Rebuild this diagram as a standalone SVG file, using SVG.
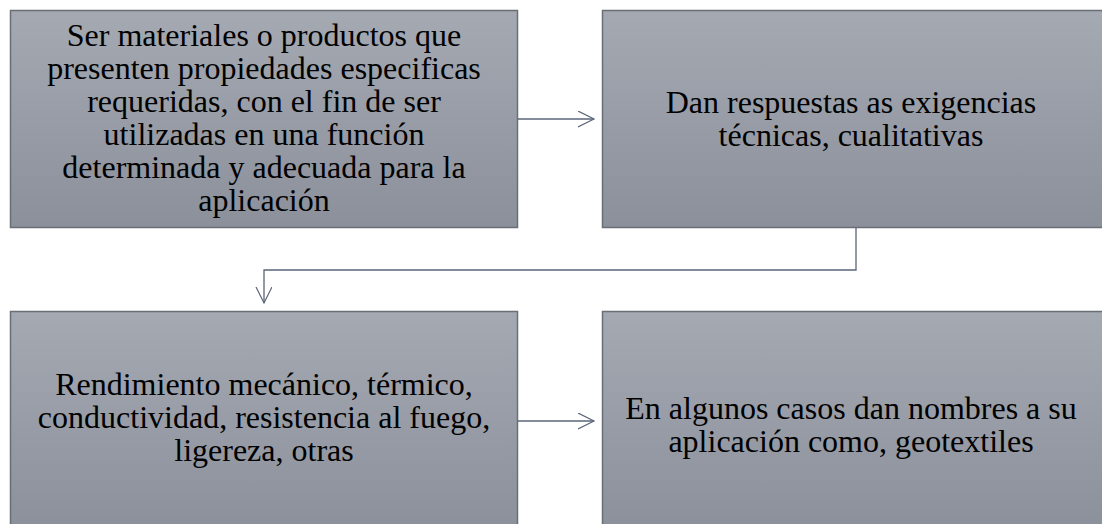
<svg xmlns="http://www.w3.org/2000/svg" width="1102" height="524" viewBox="0 0 1102 524">
<defs>
<linearGradient id="g" x1="0" y1="0" x2="0" y2="1">
<stop offset="0" stop-color="#a5a9b2"/>
<stop offset="1" stop-color="#8b909b"/>
</linearGradient>
<marker id="ah" markerWidth="20" markerHeight="20" refX="16" refY="8" orient="auto" markerUnits="userSpaceOnUse">
<path d="M0,0 L16,8 L0,16" fill="none" stroke="#5b6579" stroke-width="1.2"/>
</marker>
<style>
.box{fill:url(#g);stroke:#6a6e76;stroke-width:1.5}
.t{font-size:32px;fill:#000;text-anchor:middle}
.c{fill:none;stroke:#5b6579;stroke-width:1.3}
</style>
</defs>
<rect x="0" y="0" width="1102" height="524" fill="#fff"/>
<g font-family="Liberation Serif, DejaVu Serif, serif">
<g id="n1">
<rect class="box" x="10.5" y="10.5" width="507" height="217"/>
<text class="t" x="264" y="46">Ser materiales o productos que</text>
<text class="t" x="264" y="79">presenten propiedades especificas</text>
<text class="t" x="264" y="112">requeridas, con el fin de ser</text>
<text class="t" x="264" y="145">utilizadas en una función</text>
<text class="t" x="264" y="178">determinada y adecuada para la</text>
<text class="t" x="264" y="211">aplicación</text>
</g>
<g id="n2">
<rect class="box" x="602.5" y="10.5" width="502" height="217"/>
<text class="t" x="851" y="113">Dan respuestas as exigencias</text>
<text class="t" x="851" y="146">técnicas, cualitativas</text>
</g>
<g id="n3">
<rect class="box" x="10.5" y="311.5" width="507" height="220"/>
<text class="t" x="264" y="395">Rendimiento mecánico, térmico,</text>
<text class="t" x="264" y="428">conductividad, resistencia al fuego,</text>
<text class="t" x="264" y="461">ligereza, otras</text>
</g>
<g id="n4">
<rect class="box" x="602.5" y="311.5" width="502" height="220"/>
<text class="t" x="851" y="419">En algunos casos dan nombres a su</text>
<text class="t" x="851" y="452">aplicación como, geotextiles</text>
</g>
</g>
<g id="connectors">
<path class="c" d="M518,119 H594" marker-end="url(#ah)"/>
<path class="c" d="M856,228 V270 H264 V303" marker-end="url(#ah)"/>
<path class="c" d="M518,421 H594" marker-end="url(#ah)"/>
</g>
</svg>
